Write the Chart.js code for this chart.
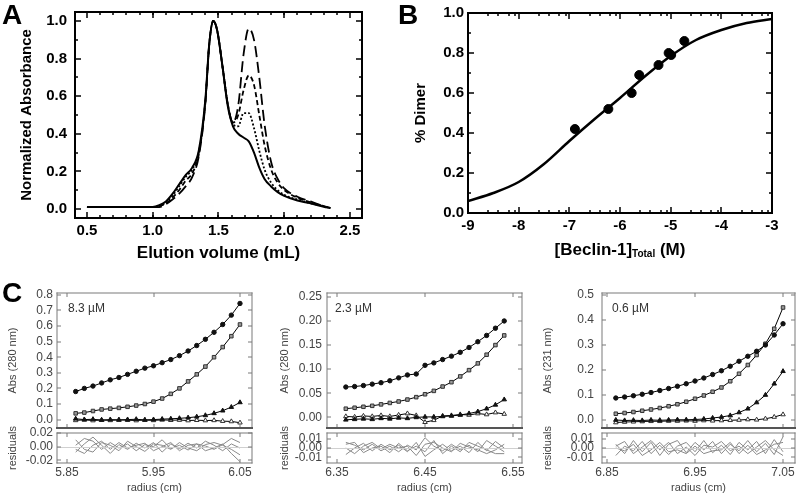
<!DOCTYPE html>
<html>
<head>
<meta charset="utf-8">
<script src="https://cdn.jsdelivr.net/npm/chart.js@4.4.1/dist/chart.umd.min.js"></script>
<style>
  body { margin: 0; background: #fff; }
  #fig { position: relative; width: 800px; height: 496px; overflow: hidden; font-family: 'Liberation Sans', Arial, sans-serif; }
  #fig canvas { position: absolute; }
  .tag { position: absolute; font-weight: bold; font-size: 28px; line-height: 28px; color: #000; }
</style>
</head>
<body>
<div id="fig">
  <canvas id="cA" width="400" height="270" style="left:0;top:0"></canvas>
  <canvas id="cB" width="400" height="270" style="left:400px;top:0"></canvas>
  <canvas id="c1" width="265" height="153" style="left:0;top:280px"></canvas>
  <canvas id="c1r" width="265" height="83" style="left:0;top:413px"></canvas>
  <canvas id="c2" width="262" height="153" style="left:272px;top:280px"></canvas>
  <canvas id="c2r" width="262" height="83" style="left:272px;top:413px"></canvas>
  <canvas id="c3" width="265" height="153" style="left:535px;top:280px"></canvas>
  <canvas id="c3r" width="265" height="83" style="left:535px;top:413px"></canvas>
  <div class="tag" style="left:2px;top:1px">A</div>
  <div class="tag" style="left:398px;top:1px">B</div>
  <div class="tag" style="left:2px;top:279px">C</div>
  <canvas id="overlay" width="800" height="496" style="left:0;top:0;z-index:5"></canvas>
</div>
<script>
// ---- Panel A: size exclusion elution profiles ----
const aVol = [0.5, 1.0, 1.05, 1.1, 1.15, 1.2, 1.25, 1.3, 1.35, 1.4, 1.43, 1.46, 1.49, 1.53, 1.57, 1.61, 1.65, 1.69, 1.73, 1.77, 1.81, 1.85, 1.9, 1.95, 2.0, 2.1, 2.2, 2.3, 2.35];
const aSolid = [0.01, 0.01, 0.02, 0.04, 0.08, 0.13, 0.18, 0.22, 0.31, 0.58, 0.88, 1.00, 0.95, 0.76, 0.55, 0.44, 0.40, 0.38, 0.36, 0.30, 0.22, 0.16, 0.12, 0.09, 0.07, 0.045, 0.03, 0.012, 0.005];
const aDotted = [0.01, 0.01, 0.015, 0.035, 0.07, 0.12, 0.17, 0.21, 0.30, 0.57, 0.88, 1.00, 0.95, 0.76, 0.56, 0.45, 0.44, 0.51, 0.51, 0.43, 0.31, 0.21, 0.14, 0.10, 0.075, 0.05, 0.03, 0.015, 0.005];
const aShort = [0.01, 0.01, 0.015, 0.03, 0.06, 0.10, 0.15, 0.19, 0.29, 0.57, 0.88, 1.00, 0.95, 0.76, 0.56, 0.46, 0.50, 0.63, 0.71, 0.66, 0.50, 0.34, 0.21, 0.14, 0.10, 0.06, 0.035, 0.015, 0.005];
const aLong = [0.01, 0.01, 0.01, 0.025, 0.05, 0.08, 0.12, 0.17, 0.28, 0.56, 0.88, 1.00, 0.95, 0.76, 0.56, 0.46, 0.55, 0.82, 0.96, 0.90, 0.70, 0.45, 0.25, 0.16, 0.11, 0.065, 0.04, 0.015, 0.005];
const aTicksX = [0.5, 1.0, 1.5, 2.0, 2.5];
const aTicksY = [0.0, 0.2, 0.4, 0.6, 0.8, 1.0];

// ---- Panel B: dimer fraction vs log concentration ----
const bLogC = [-6.89, -6.23, -5.77, -5.62, -5.24, -5.04, -4.99, -4.73];
const bDimer = [0.42, 0.52, 0.60, 0.69, 0.74, 0.80, 0.79, 0.86];
const bFitC = [-9, -8.5, -8, -7.5, -7, -6.5, -6, -5.5, -5, -4.5, -4, -3.5, -3];
const bFit = [0.06, 0.10, 0.155, 0.245, 0.36, 0.47, 0.575, 0.685, 0.785, 0.865, 0.915, 0.95, 0.97];
const bTicksX = [-9, -8, -7, -6, -5, -4, -3];
const bTicksY = [0.0, 0.2, 0.4, 0.6, 0.8, 1.0];

// ---- Panel C: sedimentation equilibrium scans ----
const c1R = [5.86, 5.87, 5.88, 5.89, 5.90, 5.91, 5.92, 5.93, 5.94, 5.95, 5.96, 5.97, 5.98, 5.99, 6.00, 6.01, 6.02, 6.03, 6.04, 6.05];
const c1S1 = [0.180, 0.200, 0.215, 0.235, 0.255, 0.270, 0.290, 0.310, 0.330, 0.345, 0.365, 0.385, 0.410, 0.440, 0.475, 0.515, 0.560, 0.610, 0.670, 0.745];
const c1S2 = [0.040, 0.045, 0.055, 0.065, 0.070, 0.075, 0.082, 0.090, 0.100, 0.115, 0.135, 0.165, 0.200, 0.245, 0.290, 0.340, 0.400, 0.465, 0.535, 0.610];
const c1S3 = [0.005, 0.000, 0.002, -0.003, 0.000, -0.002, 0.000, 0.002, -0.002, 0.000, 0.003, 0.005, 0.008, 0.012, 0.018, 0.027, 0.040, 0.057, 0.080, 0.110];
const c1S4 = [-0.005, -0.002, -0.006, -0.003, -0.005, -0.002, -0.004, -0.006, -0.003, -0.005, -0.002, -0.004, -0.003, -0.006, -0.004, -0.006, -0.005, -0.010, -0.012, -0.020];
const c1Res1 = [0.002, 0.012, 0.008, -0.004, 0.006, -0.002, 0.004, -0.006, 0.003, 0.000, 0.010, -0.003, 0.002, -0.005, 0.004, 0.001, -0.004, 0.003, 0.012, 0.006];
const c1Res2 = [-0.008, 0.004, 0.014, 0.002, -0.010, 0.003, -0.004, 0.005, -0.002, 0.006, -0.008, 0.004, -0.003, 0.005, -0.002, 0.008, 0.002, -0.006, 0.004, -0.002];
const c1Res3 = [0.010, -0.004, -0.008, 0.006, 0.002, -0.006, 0.008, 0.000, -0.007, 0.004, 0.002, -0.004, 0.006, -0.002, -0.006, 0.003, 0.006, 0.002, -0.004, -0.012];
const c1Res4 = [-0.004, -0.010, 0.002, 0.008, -0.004, 0.006, -0.002, 0.002, 0.005, -0.006, 0.000, 0.006, -0.006, 0.002, 0.004, -0.006, -0.002, 0.004, -0.010, -0.022];
const c1TicksX = [5.85, 5.95, 6.05];
const c1TicksY = [0.0, 0.1, 0.2, 0.3, 0.4, 0.5, 0.6, 0.7, 0.8];
const c1TicksRes = [-0.02, 0.00, 0.02];

const c2R = [6.36, 6.37, 6.38, 6.39, 6.40, 6.41, 6.42, 6.43, 6.44, 6.45, 6.46, 6.47, 6.48, 6.49, 6.50, 6.51, 6.52, 6.53, 6.54];
const c2S1 = [0.063, 0.064, 0.066, 0.069, 0.072, 0.076, 0.082, 0.088, 0.090, 0.108, 0.113, 0.120, 0.127, 0.135, 0.145, 0.157, 0.170, 0.185, 0.200];
const c2S2 = [0.018, 0.020, 0.022, 0.024, 0.027, 0.030, 0.033, 0.037, 0.042, 0.048, 0.055, 0.064, 0.073, 0.085, 0.098, 0.112, 0.130, 0.150, 0.170];
const c2S3 = [-0.005, -0.004, -0.003, -0.004, -0.002, -0.003, -0.001, -0.002, 0.000, 0.001, 0.001, 0.002, 0.003, 0.005, 0.008, 0.012, 0.018, 0.026, 0.037];
const c2S4 = [0.002, 0.001, 0.003, 0.002, 0.004, 0.002, 0.005, 0.008, 0.004, -0.010, -0.006, 0.003, 0.004, 0.006, 0.005, 0.008, 0.006, 0.010, 0.007];
const c2Res1 = [0.006, 0.003, -0.002, 0.004, -0.003, 0.002, -0.004, 0.003, -0.002, 0.011, 0.002, -0.003, 0.004, -0.002, 0.003, -0.004, 0.008, 0.002, -0.004];
const c2Res2 = [-0.007, 0.000, 0.005, -0.003, 0.004, -0.002, 0.003, -0.004, 0.006, -0.009, -0.002, 0.004, -0.003, 0.002, -0.005, 0.006, -0.003, 0.007, 0.000];
const c2Res3 = [0.000, -0.006, 0.002, 0.006, -0.001, 0.004, 0.000, 0.002, -0.008, 0.004, 0.006, 0.000, -0.004, 0.005, 0.001, -0.002, -0.006, -0.002, 0.004];
const c2Res4 = [0.004, 0.006, -0.005, 0.000, 0.002, -0.005, 0.005, -0.003, 0.002, -0.004, 0.008, -0.006, 0.002, -0.004, 0.006, 0.002, -0.002, -0.006, -0.006];
const c2TicksX = [6.35, 6.45, 6.55];
const c2TicksY = [0.00, 0.05, 0.10, 0.15, 0.20, 0.25];
const c2TicksRes = [-0.01, 0.00, 0.01];

const c3R = [6.86, 6.87, 6.88, 6.89, 6.90, 6.91, 6.92, 6.93, 6.94, 6.95, 6.96, 6.97, 6.98, 6.99, 7.00, 7.01, 7.02, 7.03, 7.04, 7.05];
const c3S1 = [0.088, 0.092, 0.097, 0.103, 0.110, 0.118, 0.126, 0.135, 0.145, 0.156, 0.168, 0.182, 0.197, 0.215, 0.235, 0.255, 0.275, 0.300, 0.340, 0.385];
const c3S2 = [0.025, 0.028, 0.032, 0.037, 0.042, 0.048, 0.055, 0.063, 0.073, 0.085, 0.098, 0.113, 0.130, 0.155, 0.185, 0.220, 0.260, 0.305, 0.365, 0.450];
const c3S3 = [0.000, -0.002, -0.001, -0.002, 0.000, -0.001, 0.000, 0.001, 0.001, 0.002, 0.004, 0.008, 0.012, 0.018, 0.030, 0.045, 0.070, 0.100, 0.145, 0.195];
const c3S4 = [-0.010, -0.008, -0.007, -0.006, -0.005, -0.005, -0.004, -0.004, -0.003, -0.004, -0.002, -0.003, -0.002, -0.001, 0.000, 0.002, 0.001, 0.005, 0.012, 0.022];
const c3Res1 = [0.004, -0.006, 0.008, -0.004, 0.006, -0.008, 0.004, 0.008, -0.005, 0.006, -0.002, 0.007, -0.006, 0.004, -0.003, 0.008, -0.004, 0.005, -0.007, 0.012];
const c3Res2 = [-0.008, 0.002, -0.003, 0.007, -0.006, 0.003, -0.007, 0.002, 0.006, -0.004, 0.008, -0.005, 0.003, -0.007, 0.006, -0.002, 0.007, -0.006, 0.009, -0.004];
const c3Res3 = [0.002, 0.007, -0.006, 0.001, 0.008, -0.002, 0.006, -0.006, 0.001, -0.008, 0.003, 0.001, 0.007, -0.003, 0.002, -0.006, 0.001, 0.008, -0.002, -0.008];
const c3Res4 = [0.000, -0.003, 0.004, -0.008, -0.002, 0.006, -0.004, -0.002, -0.006, 0.002, -0.006, -0.003, -0.002, 0.006, -0.006, 0.003, -0.007, -0.002, 0.004, 0.006];
const c3TicksX = [6.85, 6.95, 7.05];
const c3TicksY = [0.0, 0.1, 0.2, 0.3, 0.4, 0.5];
const c3TicksRes = [-0.01, 0.00, 0.01];

const FONT = "'Liberation Sans', Arial, sans-serif";
Chart.defaults.font.family = FONT;
Chart.defaults.animation = false;

const pts = (xs, ys) => xs.map((x, i) => ({ x: x, y: ys[i] }));

// minor tick positions (styling only)
const aMinorX = [], aMinorY = [], bMinorX = [], bMinorY = [];
for (let v = 0.6; v < 2.5; v += 0.1) aMinorX.push(+v.toFixed(1));
for (let v = 0.1; v < 1.0; v += 0.2) { aMinorY.push(+v.toFixed(1)); bMinorY.push(+v.toFixed(1)); }
for (let d = -9; d < -3; d++) { [0.4, 0.6, 0.8, 0.93].forEach(o => bMinorX.push(d + o)); }

// axis with fixed tick list and fixed thickness so the plot boxes land where they should
function axis(o) {
  return {
    type: 'linear', min: o.min, max: o.max,
    afterBuildTicks: s => { s.ticks = o.ticks.map(v => ({ value: v })); },
    afterFit: s => {
      if (o.horiz) s.height = o.size; else s.width = o.size;
      s.paddingTop = 0; s.paddingBottom = 0;
    },
    grid: { display: false, drawTicks: false },
    border: { display: false },
    ticks: {
      autoSkip: false, maxRotation: 0, padding: o.pad, color: o.color,
      // a tiny line height keeps the end labels from shrinking the plot box
      font: { size: o.fs, weight: o.bold ? 'bold' : 'normal', lineHeight: o.flat ? 0.01 : 1.2 },
      callback: v => v.toFixed(o.dec)
    },
    title: {
      display: !!o.title, text: o.title, color: o.color,
      font: { size: o.tfs, weight: o.bold ? 'bold' : 'normal' },
      padding: o.tpad
    }
  };
}

// box frame with inward ticks, painted on the overlay canvas from each chart's own scales
function drawFrame(ctx, chart, ox, oy, cfg) {
  let a = chart.chartArea;
  if (!a || ![a.left, a.top, a.right, a.bottom].every(Number.isFinite)) a = cfg.area;
  const L = Math.round(a.left) + ox, T = Math.round(a.top) + oy, R = Math.round(a.right) + ox, B = Math.round(a.bottom) + oy;
  const px = v => {
    const p = chart.scales.x.getPixelForValue(v);
    return Number.isFinite(p) ? p + ox : L + (v - cfg.xr[0]) / (cfg.xr[1] - cfg.xr[0]) * (R - L);
  };
  const py = v => {
    const p = chart.scales.y.getPixelForValue(v);
    return Number.isFinite(p) ? p + oy : B - (v - cfg.yr[0]) / (cfg.yr[1] - cfg.yr[0]) * (B - T);
  };
  ctx.save();
  if (cfg.zero) {
    ctx.fillStyle = cfg.zero;
    ctx.fillRect(L, Math.round(py(0)), R - L, 1);
  }
  ctx.fillStyle = cfg.color;
  const tw = cfg.tickWidth;
  const xt = (vals, len) => vals.forEach(v => {
    const p = Math.round(px(v)) - tw / 2;
    ctx.fillRect(p, B - len, tw, len);
    ctx.fillRect(p, T, tw, len);
  });
  const yt = (vals, len) => vals.forEach(v => {
    const p = Math.round(py(v)) - tw / 2;
    ctx.fillRect(L, p, len, tw);
    ctx.fillRect(R - len, p, len, tw);
  });
  xt(cfg.xMajor, cfg.major); xt(cfg.xMinor || [], cfg.minor);
  yt(cfg.yMajor, cfg.major); yt(cfg.yMinor || [], cfg.minor);
  const w = cfg.width, h = w / 2;
  ctx.fillRect(L - h, T - h, R - L + w, w);
  ctx.fillRect(L - h, B - h, R - L + w, w);
  ctx.fillRect(L - h, T - h, w, B - T + w);
  ctx.fillRect(R - h, T - h, w, B - T + w);
  if (cfg.sep) {
    ctx.fillStyle = cfg.sep;
    ctx.fillRect(L - 1, B - 1, R - L + 2, 2);
  }
  if (cfg.note) {
    ctx.fillStyle = '#333';
    ctx.font = '12px ' + FONT;
    ctx.textBaseline = 'middle';
    ctx.fillText(cfg.note, L + cfg.noteX, T + 16);
  }
  ctx.restore();
}

// x-axis title of panel B, with a subscript
const subTitle = {
  id: 'subTitle',
  afterDraw(chart) {
    const ctx = chart.ctx, a = chart.chartArea;
    const parts = [{ t: '[Beclin-1]', size: 17, dy: 0 }, { t: 'Total', size: 10, dy: 2 }, { t: ' (M)', size: 17, dy: 0 }];
    ctx.save();
    ctx.fillStyle = '#000';
    ctx.textBaseline = 'alphabetic';
    let tot = 0;
    parts.forEach(p => { ctx.font = 'bold ' + p.size + 'px ' + FONT; p.w = ctx.measureText(p.t).width; tot += p.w; });
    let x = (a.left + a.right) / 2 - tot / 2;
    parts.forEach(p => { ctx.font = 'bold ' + p.size + 'px ' + FONT; ctx.fillText(p.t, x, 255 + p.dy); x += p.w; });
    ctx.restore();
  }
};

const frames = [];

// ---------- Panel A ----------
const chartA = new Chart(document.getElementById('cA'), {
  type: 'scatter',
  data: {
    datasets: [
      { data: pts(aVol, aSolid), borderWidth: 2 },
      { data: pts(aVol, aDotted), borderWidth: 1.8, borderDash: [2, 2] },
      { data: pts(aVol, aShort), borderWidth: 1.8, borderDash: [5, 3] },
      { data: pts(aVol, aLong), borderWidth: 1.8, borderDash: [11, 5] }
    ].map(d => Object.assign(d, { showLine: true, pointRadius: 0, borderColor: '#000', cubicInterpolationMode: 'monotone' }))
  },
  options: {
    responsive: false,
    layout: { padding: { top: 12, right: 38, left: 0, bottom: 0 } },
    scales: {
      x: axis({ min: 0.409, max: 2.591, ticks: aTicksX, dec: 1, horiz: true, size: 52, pad: 4, color: '#000', fs: 15, bold: true,
                title: 'Elution volume (mL)', tfs: 17, tpad: { top: 0, bottom: 6 } }),
      y: axis({ min: -0.048, max: 1.048, ticks: aTicksY, dec: 1, size: 75, pad: 8, color: '#000', fs: 15, bold: true,
                title: 'Normalized Absorbance', tfs: 15, tpad: { top: 18, bottom: 0 } })
    },
    plugins: { legend: { display: false }, tooltip: { enabled: false } }
  }
});
frames.push([chartA, 0, 0, { color: '#000', width: 2, tickWidth: 1.5, major: 6, minor: 3,
  xMajor: aTicksX, xMinor: aMinorX, yMajor: aTicksY, yMinor: aMinorY,
  area: { left: 75, top: 12, right: 362, bottom: 218 }, xr: [0.409, 2.591], yr: [-0.048, 1.048] }]);

// ---------- Panel B ----------
const chartB = new Chart(document.getElementById('cB'), {
  type: 'scatter',
  data: {
    datasets: [
      { data: pts(bLogC, bDimer), pointRadius: 4.5, pointBackgroundColor: '#000', pointBorderColor: '#000', showLine: false },
      { data: pts(bFitC, bFit), showLine: true, pointRadius: 0, borderColor: '#000', borderWidth: 2.5, cubicInterpolationMode: 'monotone' }
    ]
  },
  options: {
    responsive: false,
    layout: { padding: { top: 13, right: 28, left: 0, bottom: 0 } },
    scales: {
      x: axis({ min: -9, max: -3, ticks: bTicksX, dec: 0, horiz: true, size: 57, pad: 4, color: '#000', fs: 15, bold: true }),
      y: axis({ min: 0, max: 1, ticks: bTicksY, dec: 1, size: 68, pad: 4, color: '#000', fs: 15, bold: true,
                title: '% Dimer', tfs: 15, tpad: { top: 12, bottom: 0 } })
    },
    plugins: { legend: { display: false }, tooltip: { enabled: false } }
  },
  plugins: [subTitle]
});
frames.push([chartB, 400, 0, { color: '#000', width: 2, tickWidth: 1.5, major: 6, minor: 3,
  xMajor: bTicksX, xMinor: bMinorX, yMajor: bTicksY, yMinor: bMinorY,
  area: { left: 68, top: 13, right: 372, bottom: 213 }, xr: [-9, -3], yr: [0, 1] }]);

// ---------- Panel C ----------
function scanSets(xs, s1, s2, s3, s4) {
  const base = { showLine: true, borderColor: '#000', borderWidth: 1, pointBorderWidth: 1 };
  return [
    Object.assign({ data: pts(xs, s1), pointStyle: 'circle', pointRadius: 2.2, pointBackgroundColor: '#111', pointBorderColor: '#111' }, base),
    Object.assign({ data: pts(xs, s2), pointStyle: 'rect', pointRadius: 2.5, pointBackgroundColor: '#9a9a9a', pointBorderColor: '#333' }, base),
    Object.assign({ data: pts(xs, s3), pointStyle: 'triangle', pointRadius: 2.6, pointBackgroundColor: '#111', pointBorderColor: '#111' }, base),
    Object.assign({ data: pts(xs, s4), pointStyle: 'triangle', pointRadius: 2.6, pointBackgroundColor: '#fff', pointBorderColor: '#333' }, base)
  ];
}
function resSets(xs, list) {
  return list.map(r => ({ data: pts(xs, r), showLine: true, pointRadius: 0, borderColor: '#8a8a8a', borderWidth: 1 }));
}

function sedPanel(id, ox, o) {
  const main = new Chart(document.getElementById(id), {
    type: 'scatter',
    data: { datasets: scanSets(o.r, o.s[0], o.s[1], o.s[2], o.s[3]) },
    options: {
      responsive: false,
      layout: { padding: { top: 13, right: o.w - o.right, left: 0, bottom: 0 } },
      scales: {
        x: { type: 'linear', min: o.xmin, max: o.xmax, display: false },
        y: axis({ min: o.ymin, max: o.ymax, ticks: o.ticksY, dec: o.dec, size: o.left, pad: o.pad, color: '#444', fs: 12, flat: true,
                  title: o.ytitle, tfs: 11, tpad: { top: 6, bottom: 0 } })
      },
      plugins: { legend: { display: false }, tooltip: { enabled: false } }
    }
  });
  frames.push([main, ox, 280, { color: '#7a7a7a', width: 1, tickWidth: 1, major: 4, minor: 2, sep: '#555',
    xMajor: o.ticksX, yMajor: o.ticksY, note: o.note, noteX: o.noteX,
    area: { left: o.left, top: 13, right: o.right, bottom: 153 }, xr: [o.xmin, o.xmax], yr: [o.ymin, o.ymax] }]);

  const res = new Chart(document.getElementById(id + 'r'), {
    type: 'scatter',
    data: { datasets: resSets(o.r, o.res) },
    options: {
      responsive: false,
      layout: { padding: { top: 20, right: o.w - o.right, left: 0, bottom: 0 } },
      scales: {
        x: axis({ min: o.xmin, max: o.xmax, ticks: o.ticksX, dec: 2, horiz: true, size: 33, pad: 2, color: '#444', fs: 12,
                  title: 'radius (cm)', tfs: 11, tpad: { top: 0, bottom: 1 } }),
        y: axis({ min: o.rmin, max: o.rmax, ticks: o.ticksRes, dec: 2, size: o.left, pad: o.pad, color: '#444', fs: 12,
                  title: 'residuals', tfs: 11, tpad: { top: 6, bottom: 0 } })
      },
      plugins: { legend: { display: false }, tooltip: { enabled: false } }
    }
  });
  frames.push([res, ox, 413, { color: '#7a7a7a', width: 1, tickWidth: 1, major: 4, minor: 2, zero: '#d0d0d0',
    xMajor: o.ticksX, yMajor: o.ticksRes,
    area: { left: o.left, top: 20, right: o.right, bottom: 50 }, xr: [o.xmin, o.xmax], yr: [o.rmin, o.rmax] }]);
}

sedPanel('c1', 0, { w: 265, left: 57, right: 252, pad: 4, xmin: 5.8384, xmax: 6.0639, ymin: -0.054, ymax: 0.812, dec: 1,
  r: c1R, s: [c1S1, c1S2, c1S3, c1S4], res: [c1Res1, c1Res2, c1Res3, c1Res4],
  ticksX: c1TicksX, ticksY: c1TicksY, ticksRes: c1TicksRes, rmin: -0.024, rmax: 0.02,
  ytitle: 'Abs (280 nm)', note: '8.3 \u00b5M', noteX: 11 });
sedPanel('c2', 272, { w: 262, left: 55, right: 250, pad: 5, xmin: 6.3386, xmax: 6.5602, ymin: -0.022, ymax: 0.258, dec: 2,
  r: c2R, s: [c2S1, c2S2, c2S3, c2S4], res: [c2Res1, c2Res2, c2Res3, c2Res4],
  ticksX: c2TicksX, ticksY: c2TicksY, ticksRes: c2TicksRes, rmin: -0.016, rmax: 0.016,
  ytitle: 'Abs (280 nm)', note: '2.3 \u00b5M', noteX: 8 });
sedPanel('c3', 535, { w: 265, left: 67, right: 260, pad: 8, xmin: 6.8443, xmax: 7.0636, ymin: -0.032, ymax: 0.508, dec: 1,
  r: c3R, s: [c3S1, c3S2, c3S3, c3S4], res: [c3Res1, c3Res2, c3Res3, c3Res4],
  ticksX: c3TicksX, ticksY: c3TicksY, ticksRes: c3TicksRes, rmin: -0.016, rmax: 0.016,
  ytitle: 'Abs (231 nm)', note: '0.6 \u00b5M', noteX: 10 });

// paint all frames on the overlay once every chart has laid itself out
const octx = document.getElementById('overlay').getContext('2d');
frames.forEach(f => drawFrame(octx, f[0], f[1], f[2], f[3]));
</script>
</body>
</html>
